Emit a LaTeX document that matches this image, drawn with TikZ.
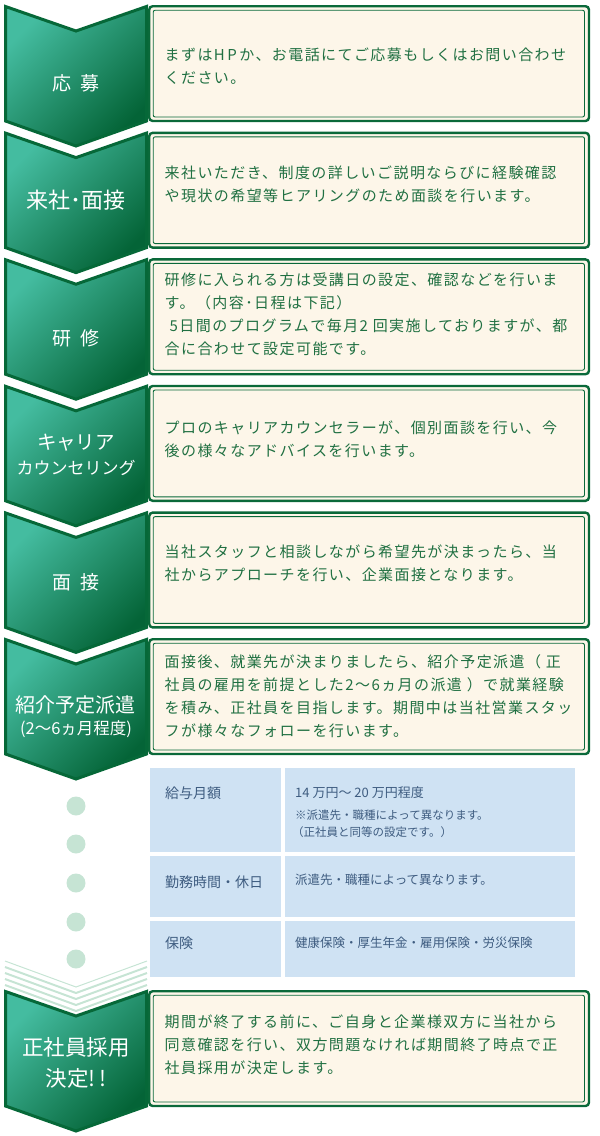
\documentclass[tikz,border=0pt]{standalone}
\usepackage{fontspec}
\setmainfont{Noto Sans CJK JP}
\newfontfamily\boxfont[LetterSpace=9.5]{Noto Sans CJK JP}
\definecolor{chevlight}{RGB}{68,188,160}
\definecolor{chevdark}{RGB}{4,100,55}
\definecolor{chevline}{RGB}{6,104,56}
\definecolor{boxfill}{RGB}{253,246,233}
\definecolor{boxline}{RGB}{10,105,58}
\definecolor{boxtext}{RGB}{32,112,66}
\definecolor{cellfill}{RGB}{207,226,243}
\definecolor{celltext}{RGB}{62,92,128}
\definecolor{dotfill}{RGB}{198,228,212}
\begin{document}
\begin{tikzpicture}[x=1pt,y=-1pt,line join=miter,
  chev/.style={draw=chevline,line width=3pt,top color=chevlight,bottom color=chevdark,shading angle=45},
  outerbox/.style={draw=boxline,line width=2.4pt,fill=boxfill,rounded corners=3.5pt},
  innerbox/.style={draw=boxline,line width=0.9pt,rounded corners=2pt},
  boxtxt/.style={anchor=north west,inner sep=0pt,align=left,text=boxtext,font=\boxfont\fontsize{15}{23}\selectfont},
  steplabel/.style={text=white,inner sep=0pt,font=\fontsize{19}{23}\selectfont},
  cell/.style={fill=cellfill},
  celltxt/.style={anchor=west,inner sep=0pt,text=celltext,font=\fontsize{14}{18}\selectfont},
  stripe/.style={draw=dotfill}]
  \useasboundingbox (0,0) rectangle (600,1136);

  \draw[chev] (5.5,6.5) -- (76,31) -- (146.5,6.5) -- (146.5,121) -- (76,146) -- (5.5,121) -- cycle;
  \draw[chev] (5.5,133.1) -- (76,157.6) -- (146.5,133.1) -- (146.5,247.6) -- (76,272.6) -- (5.5,247.6) -- cycle;
  \draw[chev] (5.5,259.7) -- (76,284.2) -- (146.5,259.7) -- (146.5,374.2) -- (76,399.2) -- (5.5,374.2) -- cycle;
  \draw[chev] (5.5,386.3) -- (76,410.8) -- (146.5,386.3) -- (146.5,500.8) -- (76,525.8) -- (5.5,500.8) -- cycle;
  \draw[chev] (5.5,512.9) -- (76,537.4) -- (146.5,512.9) -- (146.5,627.4) -- (76,652.4) -- (5.5,627.4) -- cycle;
  \draw[chev] (5.5,639.5) -- (76,664) -- (146.5,639.5) -- (146.5,754) -- (76,779) -- (5.5,754) -- cycle;
  \draw[chev] (5.5,991.5) -- (76,1016) -- (146.5,991.5) -- (146.5,1106) -- (76,1131) -- (5.5,1106) -- cycle;

  \draw[outerbox] (149.2,6.2) rectangle (589,121);
  \draw[innerbox] (153.2,10.2) rectangle (584.5,117);
  \draw[outerbox] (149.2,132.8) rectangle (589,247.6);
  \draw[innerbox] (153.2,136.8) rectangle (584.5,243.6);
  \draw[outerbox] (149.2,259.4) rectangle (589,374.2);
  \draw[innerbox] (153.2,263.4) rectangle (584.5,370.2);
  \draw[outerbox] (149.2,386) rectangle (589,500.8);
  \draw[innerbox] (153.2,390) rectangle (584.5,496.8);
  \draw[outerbox] (149.2,512.6) rectangle (589,627.4);
  \draw[innerbox] (153.2,516.6) rectangle (584.5,623.4);
  \draw[outerbox] (149.2,639.2) rectangle (589,754);
  \draw[innerbox] (153.2,643.2) rectangle (584.5,750);
  \draw[outerbox] (149.2,991.2) rectangle (589,1106);
  \draw[innerbox] (153.2,995.2) rectangle (584.5,1102);

  \node[steplabel] (apply) at (76,83) {応\hspace{0.5em}募};
  \node[steplabel,font=\fontsize{22}{23}\selectfont] (visit) at (76,200) {来社･面接};
  \node[steplabel] (train) at (76,338) {研\hspace{0.5em}修};
  \node[steplabel,font=\fontsize{19.5}{23}\selectfont] (careera) at (76,443) {キャリア};
  \node[steplabel,font=\fontsize{17}{23}\selectfont] (careerb) at (76,468) {カウンセリング};
  \node[steplabel] (interview) at (76,582) {面\hspace{0.5em}接};
  \node[steplabel,font=\fontsize{20}{23}\selectfont] (tempa) at (76,705) {紹介予定派遣};
  \node[steplabel,font=\fontsize{16.5}{23}\selectfont] (tempb) at (76,729) {(2〜6ヵ月程度)};
  \node[steplabel,font=\fontsize{21.5}{23}\selectfont] (hirea) at (76,1047) {正社員採用};
  \node[steplabel,font=\fontsize{21.5}{23}\selectfont] (hireb) at (76,1078) {決定!\,!};

  \node[boxtxt] (applytxt) at (164.5,47.5) {まずはH\,P\,か、お電話にてご応募もしくはお問い合わせ\\ください。};
  \node[boxtxt] (visittxt) at (164.5,165.5) {来社いただき、制度の詳しいご説明ならびに経験確認\\や現状の希望等ヒアリングのため面談を行います。};
  \node[boxtxt] (traintxt) at (164.5,272.5) {研修に入られる方は受講日の設定、確認などを行いま\\す。（内容･日程は下記）\\\hspace*{5pt}5日間のプログラムで毎月2 回実施しておりますが、都\\合に合わせて設定可能です。};
  \node[boxtxt] (careertxt) at (164.5,420.5) {プロのキャリアカウンセラーが、個別面談を行い、今\\後の様々なアドバイスを行います。};
  \node[boxtxt] (interviewtxt) at (164.5,544.5) {当社スタッフと相談しながら希望先が決まったら、当\\社からアプローチを行い、企業面接となります。};
  \node[boxtxt] (temptxt) at (164.5,654.5) {面接後、就業先が決まりましたら、紹介予定派遣（ 正\\社員の雇用を前提とした2〜6ヵ月の派遣 ）で就業経験\\を積み、正社員を目指します。期間中は当社営業スタッ\\フが様々なフォローを行います。};
  \node[boxtxt] (hiretxt) at (164.5,1014.5) {期間が終了する前に、ご自身と企業様双方に当社から\\同意確認を行い、双方問題なければ期間終了時点で正\\社員採用が決定します。};

  \fill[cell] (150,768) rectangle (281,852);
  \fill[cell] (285,768) rectangle (575,852);
  \fill[cell] (150,856) rectangle (281,917);
  \fill[cell] (285,856) rectangle (575,917);
  \fill[cell] (150,921) rectangle (281,977);
  \fill[cell] (285,921) rectangle (575,977);
  \node[celltxt] (salary) at (165,793) {給与月額};
  \node[celltxt,font=\fontsize{13}{16}\selectfont] (salaryval) at (295,793) {14 万円〜 20 万円程度};
  \node[celltxt,font=\fontsize{11.5}{14}\selectfont] (salarynote) at (295,815) {※派遣先・職種によって異なります。};
  \node[celltxt,font=\fontsize{11.5}{14}\selectfont] (salarynoteb) at (292,832) {（正社員と同等の設定です。）};
  \node[celltxt] (hours) at (165,882) {勤務時間・休日};
  \node[celltxt,font=\fontsize{12.5}{16}\selectfont] (hoursval) at (295,880) {派遣先・職種によって異なります。};
  \node[celltxt] (insur) at (165,943) {保険};
  \node[celltxt,font=\fontsize{12.5}{16}\selectfont] (insurval) at (295,943) {健康保険・厚生年金・雇用保険・労災保険};

  \fill[dotfill] (76,806) circle (9.5pt);
  \fill[dotfill] (76,844) circle (9.5pt);
  \fill[dotfill] (76,883) circle (9.5pt);
  \fill[dotfill] (76,922) circle (9.5pt);
  \fill[dotfill] (76,959) circle (9.5pt);
  \draw[stripe,line width=1pt] (5,961) -- (76,987) -- (147,961);
  \draw[stripe,line width=2pt] (5,967) -- (76,993) -- (147,967);
  \draw[stripe,line width=2pt] (5,973) -- (76,999) -- (147,973);
  \draw[stripe,line width=2pt] (5,979) -- (76,1005) -- (147,979);
  \draw[stripe,line width=2pt] (5,985) -- (76,1011) -- (147,985);
\end{tikzpicture}
\end{document}
